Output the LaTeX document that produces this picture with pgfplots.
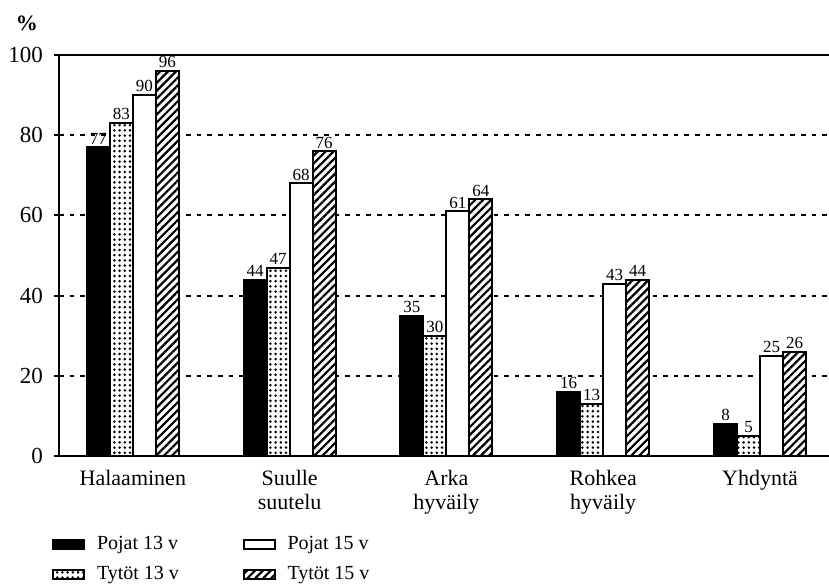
\documentclass[border=0pt]{standalone}
\usepackage{fontspec}
\setmainfont{Liberation Serif}
\usepackage{pgfplots}
\pgfplotsset{compat=1.18}
\usetikzlibrary{patterns.meta}

\tikzset{
  dotsfill/.style={preaction={fill=white}, pattern={Dots[distance=2.6pt, radius=0.7pt]}, pattern color=black},
  hatchfill/.style={preaction={fill=white}, pattern={Lines[angle=45, distance=2.8pt, line width=1.1pt]}, pattern color=black},
}

\begin{document}
\begin{tikzpicture}
\useasboundingbox (-29.5pt,-66pt) rectangle (385pt,228pt);
\begin{axis}[
  at={(0pt,0pt)}, anchor=south west,
  scale only axis, width=385pt, height=200.5pt,
  ymin=0, ymax=100, xmin=-0.471, xmax=4.44,
  separate axis lines,
  axis x line=box, axis y line=left,
  axis line style={line width=1.2pt},
  y axis line style={-},
  ybar=0pt, bar width=11.5pt,
  xtick={0,1,2,3,4},
  xticklabels={Halaaminen, {Suulle\\suutelu}, {Arka\\hyväily}, {Rohkea\\hyväily}, Yhdyntä},
  xtick style={draw=none},
  xticklabel style={align=center, font=\fontsize{11}{12}\selectfont, yshift=-1pt},
  ytick={0,20,40,60,80,100},
  tick align=outside, major tick length=2.5pt,
  ytick style={line width=1pt, black},
  yticklabel style={font=\fontsize{11.5}{12}\selectfont, xshift=-2pt},
  /pgf/number format/assume math mode=true,
  ymajorgrids, grid style={black, line width=1pt, dash pattern=on 2.3pt off 3pt},
  nodes near coords,
  every node near coord/.append style={font=\fontsize{8.5}{9}\selectfont, inner sep=1pt, black},
  legend columns=2, transpose legend,
  legend style={at={(-3.5pt,-38pt)}, anchor=north west, draw=none, fill=none, inner sep=0pt,
    font=\fontsize{10}{11}\selectfont, row sep=3pt,
    /tikz/every odd column/.append style={column sep=4pt},
    /tikz/every even column/.append style={column sep=30pt}},
  legend cell align=left,
  legend image code/.code={\draw[#1, line width=0.8pt] (0pt,-2.25pt) rectangle (15.5pt,2.25pt);},
]
\addplot[draw=black, line width=1pt, fill=black] coordinates {(0,77) (1,44) (2,35) (3,16) (4,8)};
\addplot[draw=black, line width=1pt, dotsfill] coordinates {(0,83) (1,47) (2,30) (3,13) (4,5)};
\addplot[draw=black, line width=1pt, fill=white] coordinates {(0,90) (1,68) (2,61) (3,43) (4,25)};
\addplot[draw=black, line width=1pt, hatchfill] coordinates {(0,96) (1,76) (2,64) (3,44) (4,26)};
\legend{Pojat 13 v, Tytöt 13 v, Pojat 15 v, Tytöt 15 v}
\end{axis}
\node[font=\fontsize{11}{12}\selectfont\bfseries] at (-16pt,216.5pt) {\%};
\end{tikzpicture}
\end{document}
